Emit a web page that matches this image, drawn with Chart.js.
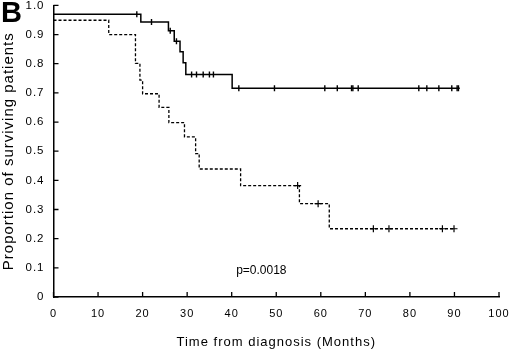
<!DOCTYPE html>
<html>
<head>
<meta charset="utf-8">
<script src="https://cdn.jsdelivr.net/npm/chart.js@4.4.1/dist/chart.umd.min.js"></script>
<style>
  html, body { margin: 0; padding: 0; background: #fff; }
  #km { display: block; }
</style>
</head>
<body>
<canvas id="km" width="520" height="350"></canvas>
<script>
// --- 1. DATA ---

// solid curve: time of each drop (months) and survival after it
const solidMonths = [0, 19.6, 25.8, 27.1, 28.4, 29.1, 29.7, 40.1, 91.2];
const solidSurvival = [0.970, 0.943, 0.913, 0.877, 0.841, 0.803, 0.763, 0.716, 0.716];

// dashed curve
const dashedMonths = [0, 12.4, 18.4, 19.4, 20.0, 23.7, 25.9, 29.4, 31.9, 32.7, 42.0, 55.2, 61.9, 90.1];
const dashedSurvival = [0.949, 0.900, 0.801, 0.744, 0.697, 0.650, 0.598, 0.549, 0.492, 0.439, 0.382, 0.320, 0.234, 0.234];

// censored patients (tick marks)
const solidCensorMonths = [18.7, 22.0, 26.2, 27.6, 31.0, 32.1, 33.6, 35.0, 35.9, 41.6, 49.6, 60.9, 63.7, 66.9, 67.2, 68.4, 82.0, 83.8, 86.5, 89.4, 90.6, 90.9];
const solidCensorSurvival = [0.970, 0.943, 0.913, 0.877, 0.763, 0.763, 0.763, 0.763, 0.763, 0.716, 0.716, 0.716, 0.716, 0.716, 0.716, 0.716, 0.716, 0.716, 0.716, 0.716, 0.716, 0.716];
const dashedCensorMonths = [54.8, 59.4, 71.8, 75.3, 87.3, 89.9];
const dashedCensorSurvival = [0.382, 0.320, 0.234, 0.234, 0.234, 0.234];

// axis ticks and text
const xTicks = [0, 10, 20, 30, 40, 50, 60, 70, 80, 90, 100];
const yTicks = [0, 0.1, 0.2, 0.3, 0.4, 0.5, 0.6, 0.7, 0.8, 0.9, 1.0];
const xTitle = 'Time from diagnosis (Months)';
const yTitle = 'Proportion of surviving patients';
const panelLabel = 'B';
const pValueText = 'p=0.0018';
const pValueAt = { x: 41, y: 0.089 };

const FONT = "'Liberation Sans', Arial, Helvetica, sans-serif";

function toPoints(xs, ys) {
    return xs.map((x, i) => ({ x: x, y: ys[i] }));
}

// --- 2. SMALL PLUGINS: spaced lettering, inward ticks, panel letter + p value ---

// the scanned figure uses slightly tracked lettering on axes
const tracking = {
    id: 'tracking',
    beforeUpdate(chart) { chart.ctx.letterSpacing = '1px'; },
    beforeDraw(chart) { chart.ctx.letterSpacing = '1px'; }
};

const inwardTicks = {
    id: 'inwardTicks',
    afterDraw(chart) {
        const ctx = chart.ctx;
        const xs = chart.scales.x;
        const ys = chart.scales.y;
        ctx.save();
        ctx.strokeStyle = '#000';
        ctx.lineWidth = 1.3;
        ctx.beginPath();
        xTicks.forEach(v => {
            const px = xs.getPixelForValue(v);
            ctx.moveTo(px, ys.bottom);
            ctx.lineTo(px, ys.bottom - 5);
        });
        yTicks.forEach(v => {
            const py = ys.getPixelForValue(v);
            ctx.moveTo(xs.left, py);
            ctx.lineTo(xs.left + 5, py);
        });
        ctx.stroke();
        ctx.restore();
    }
};

const textLabels = {
    id: 'textLabels',
    afterDraw(chart) {
        const ctx = chart.ctx;
        ctx.save();
        ctx.letterSpacing = '0px';
        ctx.fillStyle = '#000';
        ctx.font = 'bold 29px ' + FONT;
        ctx.textAlign = 'left';
        ctx.textBaseline = 'alphabetic';
        ctx.fillText(panelLabel, 1, 22);

        ctx.font = '12px ' + FONT;
        ctx.textBaseline = 'middle';
        ctx.fillText(pValueText, chart.scales.x.getPixelForValue(pValueAt.x), chart.scales.y.getPixelForValue(pValueAt.y));
        ctx.restore();
    }
};

// --- 3. CHART ---

const ctx = document.getElementById('km').getContext('2d');
const kmChart = new Chart(ctx, {
    type: 'line',
    data: {
        datasets: [
            { data: toPoints(solidMonths, solidSurvival), stepped: 'before', borderColor: '#000', borderWidth: 1.5, pointRadius: 0, fill: false },
            { data: toPoints(dashedMonths, dashedSurvival), stepped: 'before', borderColor: '#000', borderWidth: 1.3, borderDash: [3, 2], pointRadius: 0, fill: false },
            { data: toPoints(solidCensorMonths, solidCensorSurvival), showLine: false, pointStyle: 'line', rotation: 90, pointRadius: 3, borderColor: '#000', pointBorderWidth: 1.4 },
            { data: toPoints(dashedCensorMonths, dashedCensorSurvival), showLine: false, pointStyle: 'cross', pointRadius: 3.5, borderColor: '#000', pointBorderWidth: 1.2 }
        ]
    },
    options: {
        responsive: false,
        animation: false,
        devicePixelRatio: 1,
        layout: { padding: { left: 0, top: 4, right: 21, bottom: 0 } },
        plugins: { legend: { display: false }, tooltip: { enabled: false } },
        scales: {
            x: {
                type: 'linear',
                min: 0,
                max: 100,
                afterBuildTicks: s => { s.ticks = xTicks.map(v => ({ value: v })); },
                ticks: { color: '#000', font: { family: FONT, size: 11 }, padding: 10, maxRotation: 0, autoSkip: false },
                grid: { display: false, drawTicks: false },
                border: { display: true, color: '#000', width: 1.5 },
                title: { display: true, text: xTitle, color: '#000', font: { family: FONT, size: 13 }, padding: 0 },
                afterFit: s => { s.height = 53; s.paddingLeft = 0; s.paddingRight = 0; }
            },
            y: {
                type: 'linear',
                min: 0,
                max: 1,
                afterBuildTicks: s => { s.ticks = yTicks.map(v => ({ value: v })); },
                ticks: {
                    color: '#000',
                    font: { family: FONT, size: 11.5 },
                    padding: 9,
                    autoSkip: false,
                    callback: v => v === 0 ? '0' : v.toFixed(1)
                },
                grid: { display: false, drawTicks: false },
                border: { display: true, color: '#000', width: 1.5 },
                title: { display: true, text: yTitle, color: '#000', font: { family: FONT, size: 15 }, padding: 0 },
                afterFit: s => { s.width = 53.5; s.paddingTop = 0; s.paddingBottom = 0; }
            }
        }
    },
    plugins: [tracking, inwardTicks, textLabels]
});
</script>
</body>
</html>
